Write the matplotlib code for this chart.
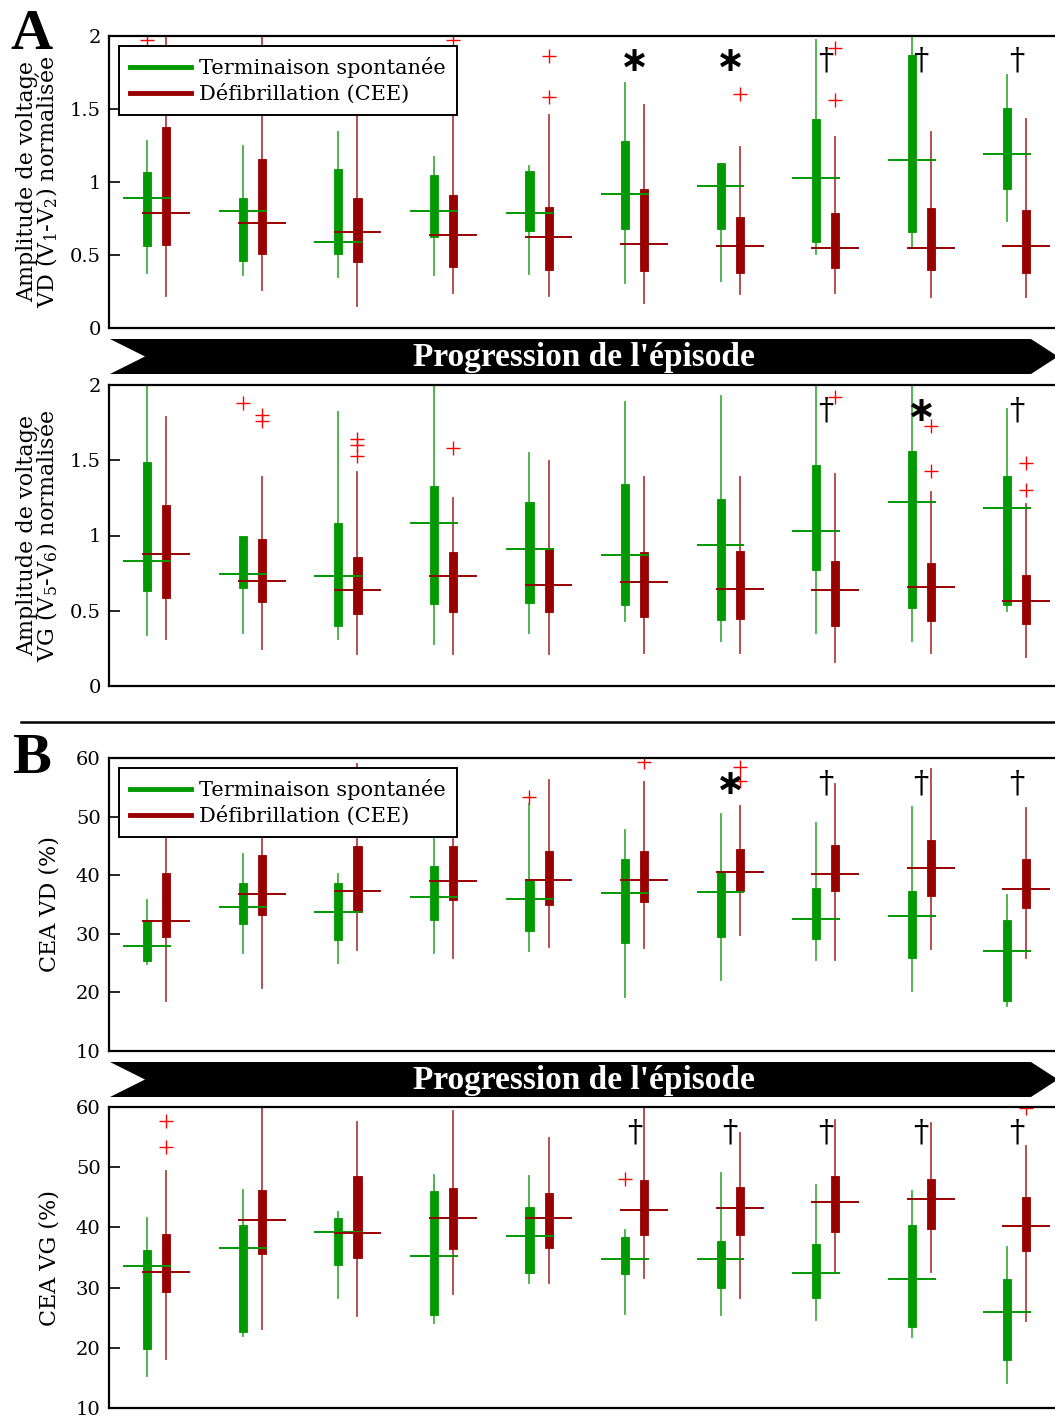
import matplotlib
matplotlib.use('AGG')
import matplotlib.pyplot as plt
from matplotlib.patches import Polygon
from matplotlib.lines import Line2D

plt.rcParams['font.family'] = ['DejaVu Serif', 'DejaVu Sans']
plt.rcParams['mathtext.fontset'] = 'dejavuserif'

GREEN = '#009900'
RED = '#990000'
FLIER = '#ff0000'

groups = list(range(1, 11))

# ---- A top : VD amplitude ----
a1_g_lo = [0.38, 0.36, 0.35, 0.36, 0.37, 0.31, 0.32, 0.51, 0.55, 0.73]
a1_g_q1 = [0.56, 0.46, 0.51, 0.62, 0.665, 0.68, 0.68, 0.59, 0.66, 0.95]
a1_g_med = [0.89, 0.80, 0.59, 0.80, 0.79, 0.92, 0.97, 1.03, 1.15, 1.19]
a1_g_q3 = [1.07, 0.89, 1.09, 1.05, 1.075, 1.28, 1.13, 1.43, 1.87, 1.51]
a1_g_hi = [1.28, 1.25, 1.34, 1.17, 1.11, 1.68, 1.13, 1.97, 2.2, 1.73]
a1_g_out = [[1.97], [], [], [], [], [], [], [], [], []]
a1_r_lo = [0.22, 0.26, 0.15, 0.24, 0.22, 0.17, 0.235, 0.24, 0.21, 0.21]
a1_r_q1 = [0.57, 0.51, 0.45, 0.42, 0.40, 0.39, 0.38, 0.41, 0.40, 0.38]
a1_r_med = [0.79, 0.72, 0.66, 0.64, 0.62, 0.575, 0.565, 0.55, 0.55, 0.565]
a1_r_q3 = [1.38, 1.16, 0.89, 0.91, 0.83, 0.95, 0.76, 0.79, 0.82, 0.81]
a1_r_hi = [2.3, 2.3, 1.75, 1.48, 1.46, 1.53, 1.24, 1.31, 1.34, 1.43]
a1_r_out = [[], [], [], [1.97], [1.86, 1.58], [], [1.60], [1.92, 1.56], [], []]
a1_marks = ['', '', '', '', '', '*', '*', '†', '†', '†']

# ---- A bottom : VG amplitude ----
a2_g_lo = [0.34, 0.35, 0.315, 0.28, 0.35, 0.43, 0.30, 0.35, 0.30, 0.50]
a2_g_q1 = [0.63, 0.65, 0.40, 0.545, 0.55, 0.54, 0.44, 0.77, 0.52, 0.54]
a2_g_med = [0.83, 0.745, 0.73, 1.08, 0.91, 0.87, 0.94, 1.03, 1.22, 1.18]
a2_g_q3 = [1.49, 0.995, 1.08, 1.33, 1.22, 1.34, 1.24, 1.47, 1.56, 1.395]
a2_g_hi = [2.2, 1.00, 1.82, 2.2, 1.55, 1.89, 1.93, 2.2, 2.2, 1.84]
a2_g_out = [[], [1.88], [], [], [], [], [], [], [], []]
a2_r_lo = [0.31, 0.245, 0.21, 0.21, 0.21, 0.22, 0.22, 0.16, 0.22, 0.19]
a2_r_q1 = [0.585, 0.56, 0.48, 0.49, 0.49, 0.46, 0.445, 0.40, 0.43, 0.41]
a2_r_med = [0.875, 0.70, 0.64, 0.73, 0.67, 0.69, 0.645, 0.64, 0.66, 0.565]
a2_r_q3 = [1.20, 0.98, 0.86, 0.89, 0.92, 0.89, 0.90, 0.83, 0.82, 0.735]
a2_r_hi = [1.79, 1.39, 1.42, 1.25, 1.495, 1.39, 1.39, 1.41, 1.29, 1.21]
a2_r_out = [[], [1.80, 1.76], [1.64, 1.60, 1.53], [1.58], [], [], [], [1.92],
            [1.73, 1.43], [1.48, 1.30]]
a2_marks = ['', '', '', '', '', '', '', '†', '*', '†']

# ---- B top : CEA VD ----
b1_g_lo = [24.8, 26.8, 25.0, 26.8, 27.0, 19.3, 22.1, 25.6, 20.2, 17.7]
b1_g_q1 = [25.4, 31.7, 28.9, 32.3, 30.5, 28.5, 29.4, 29.1, 25.9, 18.5]
b1_g_med = [27.9, 34.5, 33.7, 36.2, 35.9, 37.0, 37.1, 32.5, 33.0, 27.1]
b1_g_q3 = [32.1, 38.6, 38.7, 41.6, 39.4, 42.8, 40.8, 37.8, 37.3, 32.3]
b1_g_hi = [35.8, 43.6, 40.2, 49.0, 52.1, 47.7, 50.4, 48.9, 51.6, 36.6]
b1_g_out = [[], [], [], [], [53.4], [], [], [], [], []]
b1_r_lo = [18.6, 20.8, 27.2, 25.8, 27.8, 27.5, 29.8, 25.6, 27.4, 25.8]
b1_r_q1 = [29.5, 33.2, 33.7, 35.8, 35.0, 35.5, 37.3, 37.3, 36.5, 34.4]
b1_r_med = [32.1, 36.8, 37.3, 39.0, 39.1, 39.2, 40.5, 40.2, 41.2, 37.6]
b1_r_q3 = [40.3, 43.4, 44.9, 44.9, 44.2, 44.2, 44.4, 45.2, 46.0, 42.8]
b1_r_hi = [51.0, 50.0, 58.9, 50.0, 56.3, 55.9, 51.8, 55.5, 58.1, 51.4]
b1_r_out = [[], [], [], [], [], [59.4], [58.5, 56.1], [], [], []]
b1_marks = ['', '', '', '', '', '', '*', '†', '†', '†']

# ---- B bottom : CEA VG ----
b2_g_lo = [15.3, 21.9, 28.2, 24.2, 30.8, 25.6, 25.4, 24.7, 21.8, 14.2]
b2_g_q1 = [19.8, 22.7, 33.7, 25.5, 32.5, 32.3, 30.0, 28.2, 23.4, 17.9]
b2_g_med = [33.6, 36.5, 39.3, 35.2, 38.5, 34.8, 34.7, 32.4, 31.5, 26.0]
b2_g_q3 = [36.3, 40.4, 41.6, 46.1, 43.4, 38.4, 37.8, 37.2, 40.4, 31.5]
b2_g_hi = [41.6, 46.2, 42.6, 48.7, 48.6, 39.6, 49.0, 47.0, 46.0, 36.7]
b2_g_out = [[], [], [], [], [], [48.1], [], [], [], []]
b2_r_lo = [18.2, 23.2, 25.3, 29.0, 30.8, 31.6, 28.3, 32.4, 32.6, 24.5]
b2_r_q1 = [29.3, 35.5, 34.9, 36.4, 36.5, 38.7, 38.8, 39.3, 39.8, 36.1]
b2_r_med = [32.6, 41.3, 39.1, 41.5, 41.5, 42.9, 43.3, 44.2, 44.8, 40.2]
b2_r_q3 = [38.9, 46.2, 48.6, 46.5, 45.7, 47.9, 46.7, 48.6, 48.1, 45.1]
b2_r_hi = [49.3, 62.0, 57.5, 59.4, 54.9, 62.0, 55.6, 57.9, 57.3, 53.6]
b2_r_out = [[57.6, 53.3], [], [], [], [], [], [], [], [], [59.9]]
b2_marks = ['', '', '', '', '', '†', '†', '†', '†', '†']

W, H = 1055, 1419
fig = plt.figure(figsize=(W / 100, H / 100), dpi=100)


def make_ax(top, bottom):
    return fig.add_axes([109 / W, 1 - bottom / H, 955.6 / W, (bottom - top) / H])


def stats(lo, q1, med, q3, hi, out):
    return [dict(whislo=a, q1=b, med=c, q3=d, whishi=e, fliers=f)
            for a, b, c, d, e, f in zip(lo, q1, med, q3, hi, out)]


def draw_series(ax, pos, st, color):
    ax.bxp(st, positions=pos, widths=0.085, patch_artist=True, showcaps=False,
           boxprops=dict(facecolor=color, edgecolor=color, linewidth=0.6),
           whiskerprops=dict(color=color, linewidth=1.3, alpha=0.75),
           medianprops=dict(linewidth=0),
           flierprops=dict(marker='+', markeredgecolor=FLIER, markersize=10,
                           markeredgewidth=1.0, linestyle='none'),
           manage_ticks=False)
    ax.hlines([s['med'] for s in st], [p - 0.25 for p in pos], [p + 0.25 for p in pos],
              color=color, linewidth=1.4, zorder=5)


def panel(ax, g, r, marks, ylim, yticks, yticklabels, mark_y, ylabel):
    gpos = [x - 0.1 for x in groups]
    rpos = [x + 0.1 for x in groups]
    draw_series(ax, gpos, g, GREEN)
    draw_series(ax, rpos, r, RED)
    for x, m in zip(groups, marks):
        if m == '*':
            ax.text(x, mark_y, '∗', ha='center', va='center', fontsize=25,
                    fontweight='bold', family='DejaVu Sans', zorder=6)
        elif m:
            ax.text(x, mark_y, m, ha='center', va='center', fontsize=22, zorder=6)
    ax.set_xlim(0.5, 10.5)
    ax.set_ylim(*ylim)
    ax.set_yticks(yticks)
    ax.set_yticklabels(yticklabels)
    ax.set_xticks([])
    ax.tick_params(axis='y', direction='in', length=8, width=1.2, labelsize=14, pad=6)
    for s in ax.spines.values():
        s.set_linewidth(1.6)
    ax.set_ylabel(ylabel, fontsize=16, linespacing=0.8)
    ax.yaxis.set_label_coords(-0.051, 0.5)


def add_legend(ax):
    h = [Line2D([], [], color=GREEN, lw=3.5), Line2D([], [], color=RED, lw=3.5)]
    leg = ax.legend(h, ['Terminaison spontanée', 'Défibrillation (CEE)'],
                    loc='upper left', bbox_to_anchor=(0.0105, 0.966), borderaxespad=0,
                    fontsize=15, handlelength=2.9, handletextpad=0.4, labelspacing=0.25,
                    borderpad=0.55, fancybox=False, framealpha=1, edgecolor='black')
    leg.get_frame().set_linewidth(1.4)
    leg.set_zorder(10)


def banner(top, bottom):
    mid = (top + bottom) / 2
    pts = [(110, top), (1031, top), (1058, mid), (1031, bottom), (110, bottom), (145, mid)]
    pts = [(x / W, 1 - y / H) for x, y in pts]
    fig.add_artist(Polygon(pts, closed=True, transform=fig.transFigure,
                           facecolor='black', edgecolor='none'))
    fig.text(584 / W, 1 - (mid + 1) / H, "Progression de l'épisode", color='white',
             ha='center', va='center', fontsize=24, fontweight='bold',
             family='Liberation Serif')


ax1 = make_ax(36, 328)
panel(ax1,
      stats(a1_g_lo, a1_g_q1, a1_g_med, a1_g_q3, a1_g_hi, a1_g_out),
      stats(a1_r_lo, a1_r_q1, a1_r_med, a1_r_q3, a1_r_hi, a1_r_out),
      a1_marks, (0, 2), [0, 0.5, 1, 1.5, 2], ['0', '0.5', '1', '1.5', '2'], 1.83,
      'Amplitude de voltage\nVD (V$_1$-V$_2$) normalisée')
add_legend(ax1)

ax2 = make_ax(385, 686)
panel(ax2,
      stats(a2_g_lo, a2_g_q1, a2_g_med, a2_g_q3, a2_g_hi, a2_g_out),
      stats(a2_r_lo, a2_r_q1, a2_r_med, a2_r_q3, a2_r_hi, a2_r_out),
      a2_marks, (0, 2), [0, 0.5, 1, 1.5, 2], ['0', '0.5', '1', '1.5', '2'], 1.83,
      'Amplitude de voltage\nVG (V$_5$-V$_6$) normalisée')

ax3 = make_ax(758, 1051)
panel(ax3,
      stats(b1_g_lo, b1_g_q1, b1_g_med, b1_g_q3, b1_g_hi, b1_g_out),
      stats(b1_r_lo, b1_r_q1, b1_r_med, b1_r_q3, b1_r_hi, b1_r_out),
      b1_marks, (10, 60), [10, 20, 30, 40, 50, 60],
      ['10', '20', '30', '40', '50', '60'], 55.6, 'CEA VD (%)')
add_legend(ax3)

ax4 = make_ax(1107, 1408)
panel(ax4,
      stats(b2_g_lo, b2_g_q1, b2_g_med, b2_g_q3, b2_g_hi, b2_g_out),
      stats(b2_r_lo, b2_r_q1, b2_r_med, b2_r_q3, b2_r_hi, b2_r_out),
      b2_marks, (10, 60), [10, 20, 30, 40, 50, 60],
      ['10', '20', '30', '40', '50', '60'], 55.6, 'CEA VG (%)')

banner(339, 374)
banner(1062, 1097)

fig.add_artist(Line2D([21 / W, 1], [1 - 722 / H, 1 - 722 / H], color='black',
                      linewidth=1.8, transform=fig.transFigure))

fig.text(10 / W, 1 - 9 / H, 'A', fontsize=42, fontweight='bold', va='top', ha='left',
         family='Liberation Serif')
fig.text(12 / W, 1 - 733 / H, 'B', fontsize=42, fontweight='bold', va='top', ha='left',
         family='Liberation Serif')

fig.savefig('out.png', dpi=100)
